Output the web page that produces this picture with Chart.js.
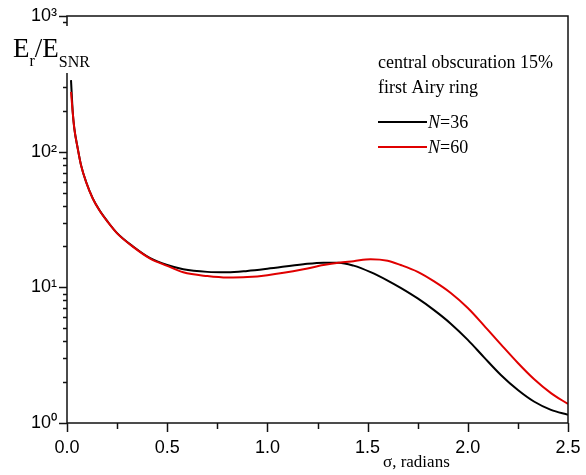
<!DOCTYPE html>
<html lang="en">
<head>
    <meta charset="UTF-8">
    <title>Er/ESNR vs sigma</title>
    <style>
        body { margin: 0; background: #fff; }
    </style>
</head>
<body>
    <canvas id="chart" width="586" height="475"></canvas>

    <script src="https://cdn.jsdelivr.net/npm/chart.js"></script>
    <script>
        // values
        const sigma36 = [0.02, 0.0285, 0.0365, 0.0535, 0.07, 0.095, 0.1285, 0.1615, 0.2035, 0.25, 0.3315, 0.415, 0.5, 0.58, 0.7, 0.8, 0.9, 1.0, 1.18, 1.28, 1.355, 1.43, 1.515, 1.6, 1.665, 1.75, 1.83, 1.915, 2.0, 2.08, 2.165, 2.25, 2.33, 2.415, 2.5]
        const ratio36 = [337, 197, 148.5, 105.7, 79.6, 60.0, 45.3, 37.1, 30.4, 25.1, 19.9, 16.4, 14.6, 13.6, 13.0, 12.9, 13.2, 13.7, 14.8, 15.2, 15.2, 14.45, 12.94, 11.22, 9.91, 8.28, 6.82, 5.4, 4.1, 3.06, 2.26, 1.75, 1.44, 1.25, 1.15]

        const sigma60 = [0.02, 0.0285, 0.0365, 0.0535, 0.07, 0.095, 0.1285, 0.1615, 0.2035, 0.25, 0.3315, 0.415, 0.5, 0.58, 0.7, 0.8, 0.9, 1.0, 1.18, 1.28, 1.355, 1.43, 1.515, 1.6, 1.665, 1.75, 1.83, 1.915, 2.0, 2.08, 2.165, 2.25, 2.33, 2.415, 2.5]
        const ratio60 = [276, 195, 148, 105.5, 79.4, 59.9, 45.2, 37.0, 30.3, 25.0, 19.8, 16.3, 14.4, 12.9, 12.1, 11.8, 11.9, 12.3, 13.6, 14.6, 15.2, 15.6, 16.1, 15.7, 14.6, 13.0, 11.1, 9.08, 7.04, 5.25, 3.8, 2.77, 2.11, 1.66, 1.38]

        const xTicks = [0, 0.5, 1.0, 1.5, 2.0, 2.5]
        const yTicks = [1, 10, 100, 1000]
        const supers = ['\u2070', '\u00B9', '\u00B2', '\u00B3']

        const legendLines = ['central obscuration 15%', 'first Airy ring']
        const seriesNames = ['=36', '=60']

        const toPoints = (xs, ys) => xs.map((x, i) => ({ x: x, y: ys[i] }))

        const serif = "'Liberation Serif', 'Times New Roman', serif"
        const sans = "'Liberation Sans', Arial, sans-serif"

        // ticks, frame, titles and legend
        const decorations = {
            id: 'decorations',
            afterDraw(chart) {
                const ctx = chart.ctx
                const area = chart.chartArea
                const xs = chart.scales.x
                const ys = chart.scales.y
                ctx.save()
                ctx.strokeStyle = '#111'
                ctx.lineWidth = 1.5

                // frame
                ctx.strokeRect(area.left, area.top, area.right - area.left, area.bottom - area.top)

                // x ticks, outward
                for (let i = 0; i <= 10; i++) {
                    const v = i * 0.25
                    const px = Math.round(xs.getPixelForValue(v)) + 0.5
                    const len = i % 2 === 0 ? 9 : 6
                    ctx.beginPath()
                    ctx.moveTo(px, area.bottom)
                    ctx.lineTo(px, area.bottom + len)
                    ctx.stroke()
                }

                // y ticks, outward, log minors
                for (let d = 0; d <= 3; d++) {
                    for (let k = 1; k <= 9; k++) {
                        if (d === 3 && k > 1) break
                        const v = k * Math.pow(10, d)
                        const py = Math.round(ys.getPixelForValue(v)) + 0.5
                        const len = k === 1 ? 8 : 4
                        ctx.beginPath()
                        ctx.moveTo(area.left - len, py)
                        ctx.lineTo(area.left, py)
                        ctx.stroke()
                    }
                }

                // y title sits over the axis
                ctx.fillStyle = '#fff'
                ctx.fillRect(10, 26, 74, 47)
                ctx.fillStyle = '#000'
                ctx.textBaseline = 'alphabetic'
                ctx.textAlign = 'left'
                ctx.font = '27px ' + serif
                ctx.fillText('E', 13, 57)
                let w = ctx.measureText('E').width
                ctx.font = '16px ' + serif
                ctx.fillText('r', 13 + w, 66)
                w += ctx.measureText('r').width
                ctx.font = '27px ' + serif
                ctx.fillText('/E', 13 + w, 57)
                w += ctx.measureText('/E').width
                ctx.font = '16px ' + serif
                ctx.fillText('SNR', 13 + w, 67)

                // x title
                ctx.font = '17px ' + serif
                ctx.fillText('\u03C3, radians', 383, 467)

                // legend
                ctx.font = '18px ' + serif
                ctx.fillText(legendLines[0], 378, 68)
                ctx.fillText(legendLines[1], 378, 93)

                const colors = ['#000', '#e00000']
                const lineY = [122, 147]
                for (let i = 0; i < 2; i++) {
                    ctx.strokeStyle = colors[i]
                    ctx.lineWidth = 2
                    ctx.beginPath()
                    ctx.moveTo(378, lineY[i])
                    ctx.lineTo(427, lineY[i])
                    ctx.stroke()
                    ctx.fillStyle = '#000'
                    ctx.font = 'italic 18px ' + serif
                    ctx.fillText('N', 428, lineY[i] + 6)
                    const nw = ctx.measureText('N').width
                    ctx.font = '18px ' + serif
                    ctx.fillText(seriesNames[i], 428 + nw, lineY[i] + 6)
                }
                ctx.restore()
            }
        }

        const ctx = document.getElementById('chart').getContext('2d')

        const myChart = new Chart(ctx, {
            type: 'line',
            data: {
                datasets: [{
                    label: 'N=36',
                    data: toPoints(sigma36, ratio36),
                    borderColor: '#000',
                    borderWidth: 2,
                    pointRadius: 0,
                    cubicInterpolationMode: 'monotone',
                    order: 1
                }, {
                    label: 'N=60',
                    data: toPoints(sigma60, ratio60),
                    borderColor: '#e00000',
                    borderWidth: 2,
                    pointRadius: 0,
                    cubicInterpolationMode: 'monotone',
                    order: 0
                }]
            },
            options: {
                responsive: false,
                animation: false,
                layout: { padding: { top: 16, right: 18, left: 0, bottom: 0 } },
                plugins: {
                    legend: { display: false },
                    tooltip: { enabled: false }
                },
                scales: {
                    x: {
                        type: 'linear',
                        min: 0,
                        max: 2.5,
                        grid: { display: false, drawTicks: false },
                        border: { display: false },
                        afterBuildTicks: scale => { scale.ticks = xTicks.map(v => ({ value: v })) },
                        afterFit: scale => {
                            scale.height = 52
                            scale.paddingLeft = 0
                            scale.paddingRight = 0
                        },
                        ticks: {
                            padding: 14,
                            color: '#000',
                            font: { family: sans, size: 18 },
                            callback: value => value.toFixed(1)
                        }
                    },
                    y: {
                        type: 'logarithmic',
                        min: 1,
                        max: 1000,
                        grid: { display: false, drawTicks: false },
                        border: { display: false },
                        afterBuildTicks: scale => { scale.ticks = yTicks.map(v => ({ value: v, major: true })) },
                        afterFit: scale => {
                            scale.width = 67
                            scale.paddingTop = 0
                            scale.paddingBottom = 0
                        },
                        ticks: {
                            padding: 10,
                            color: '#000',
                            font: { family: sans, size: 18 },
                            callback: value => '10' + supers[Math.round(Math.log10(value))]
                        }
                    }
                }
            },
            plugins: [decorations]
        })
    </script>
</body>
</html>
